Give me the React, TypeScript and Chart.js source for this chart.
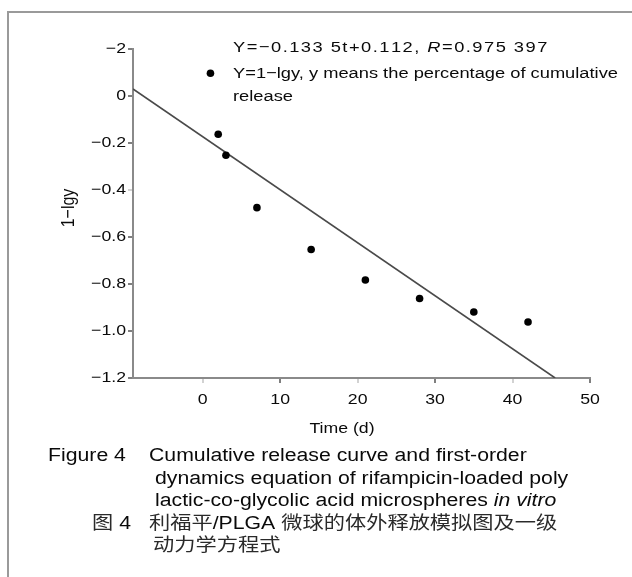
import React, { useEffect, useRef } from "react";
import { Chart, registerables } from "chart.js";

Chart.register(...registerables);

// ---- data ----
const TIME_DAYS = [1, 2, 3, 7, 14, 21, 28, 35, 42];
const VALUES_1_LGY = [0.097, -0.163, -0.252, -0.475, -0.653, -0.783, -0.862, -0.919, -0.962];
const FIT_T = [-9, 45.5];
const FIT_Y = [0.03, -1.2];
const X_TICKS = [0, 10, 20, 30, 40, 50];
const X_TICK_LABELS = ["0", "10", "20", "30", "40", "50"];
const Y_TICKS = [0.2, 0, -0.2, -0.4, -0.6, -0.8, -1.0, -1.2];
const Y_TICK_LABELS = ["−2", "0", "−0.2", "−0.4", "−0.6", "−0.8", "−1.0", "−1.2"];
const X_LIGHT_TICKS = [0, 20, 40];
const Y_LIGHT_TICKS = [-0.4];
const X_TITLE = "Time (d)";
const Y_TITLE = "1−lgy";
const X_MIN = -9;
const X_MAX = 50;
const Y_MIN = -1.2;
const Y_MAX = 0.2;

// ---- text styling ----
const SX = 1.18;
const LATIN = '"Liberation Sans", Arial, sans-serif';
const CJK = '"Noto Sans CJK SC", sans-serif';
const TEXT = "#0a0a0a";

type Seg = { t: string; font: string; color?: string; ls?: number };

function drawSegs(ctx: CanvasRenderingContext2D, segs: Seg[], x: number, y: number, baseline: CanvasTextBaseline = "alphabetic") {
  ctx.save();
  ctx.translate(x, y);
  ctx.scale(SX, 1);
  ctx.textBaseline = baseline;
  ctx.textAlign = "left";
  let cx = 0;
  for (const s of segs) {
    ctx.font = s.font;
    ctx.fillStyle = s.color || TEXT;
    if (s.ls) {
      for (const ch of Array.from(s.t)) {
        ctx.fillText(ch, cx, 0);
        cx += ctx.measureText(ch).width + s.ls;
      }
    } else {
      ctx.fillText(s.t, cx, 0);
      cx += ctx.measureText(s.t).width;
    }
  }
  ctx.restore();
}

function drawAligned(ctx: CanvasRenderingContext2D, text: string, x: number, y: number, align: CanvasTextAlign, font: string) {
  ctx.save();
  ctx.translate(x, y);
  ctx.scale(SX, 1);
  ctx.font = font;
  ctx.fillStyle = TEXT;
  ctx.textAlign = align;
  ctx.textBaseline = "middle";
  ctx.fillText(text, 0, 0);
  ctx.restore();
}

const textPlugin = {
  id: "textPlugin",
  afterDraw(chart: any) {
    const ctx: CanvasRenderingContext2D = chart.ctx;
    const xs = chart.scales.x;
    const ys = chart.scales.y;
    const tickFont = `15px ${LATIN}`;
    ys.ticks.forEach((tk: any) => {
      const idx = Y_TICKS.findIndex((v) => Math.abs(v - tk.value) < 1e-9);
      if (idx < 0) return;
      drawAligned(ctx, Y_TICK_LABELS[idx], ys.left - 2, ys.getPixelForValue(tk.value), "right", tickFont);
    });
    xs.ticks.forEach((tk: any) => {
      const idx = X_TICKS.indexOf(tk.value);
      if (idx < 0) return;
      drawAligned(ctx, X_TICK_LABELS[idx], xs.getPixelForValue(tk.value), xs.bottom + 17, "center", tickFont);
    });
    // axis titles
    drawAligned(ctx, X_TITLE, 342, 429, "center", tickFont);
    ctx.save();
    ctx.translate(69, 208);
    ctx.rotate(-Math.PI / 2);
    ctx.scale(1, SX);
    ctx.font = `16px ${LATIN}`;
    ctx.fillStyle = TEXT;
    ctx.textAlign = "center";
    ctx.textBaseline = "middle";
    ctx.fillText(Y_TITLE, 0, 0);
    ctx.restore();

    // legend text
    const lf = `15.5px ${LATIN}`;
    const lfi = `italic 15.5px ${LATIN}`;
    drawSegs(
      ctx,
      [
        { t: "Y=−0.133 5t+0.112, ", font: lf, ls: 1.25 },
        { t: "R", font: lfi, ls: 1.25 },
        { t: "=0.975 397", font: lf, ls: 1.25 },
      ],
      233,
      48,
      "middle"
    );
    drawSegs(ctx, [{ t: "Y=1−lgy, y means the percentage of cumulative", font: lf }], 233, 74, "middle");
    drawSegs(ctx, [{ t: "release", font: lf }], 233, 97, "middle");

    // caption
    const cf = `18px ${LATIN}`;
    const cfi = `italic 18px ${LATIN}`;
    const cj = `18px ${CJK}`;
    drawSegs(ctx, [{ t: "Figure 4", font: cf }], 48, 461);
    drawSegs(ctx, [{ t: "Cumulative release curve and first-order", font: cf }], 149, 461);
    drawSegs(ctx, [{ t: "dynamics equation of rifampicin-loaded poly", font: cf }], 155, 484);
    drawSegs(ctx, [{ t: "lactic-co-glycolic acid microspheres ", font: cf }, { t: "in vitro", font: cfi }], 155, 506);
    drawSegs(ctx, [{ t: "图", font: cj, color: "#2a2a2a" }, { t: " 4", font: cf }], 92, 529);
    drawSegs(
      ctx,
      [
        { t: "利福平", font: cj, color: "#2a2a2a" },
        { t: "/PLGA ", font: cf },
        { t: "微球的体外释放模拟图及一级", font: cj, color: "#2a2a2a" },
      ],
      149,
      529
    );
    drawSegs(ctx, [{ t: "动力学方程式", font: cj, color: "#2a2a2a" }], 153, 551);
  },
};

export default function App() {
  const ref = useRef<HTMLCanvasElement | null>(null);
  useEffect(() => {
    if (!ref.current) return;
    const chart = new Chart(ref.current, {
      type: "scatter",
      data: {
        datasets: [
          {
            type: "scatter",
            data: TIME_DAYS.map((t, i) => ({ x: t, y: VALUES_1_LGY[i] })),
            backgroundColor: "#000",
            borderColor: "#000",
            pointRadius: 3.8,
            borderWidth: 0,
            order: 0,
          },
          {
            type: "line",
            data: FIT_T.map((t, i) => ({ x: t, y: FIT_Y[i] })),
            borderColor: "#4a4a4a",
            borderWidth: 1.6,
            pointRadius: 0,
            showLine: true,
            fill: false,
            order: 1,
          } as any,
        ],
      },
      options: {
        animation: false,
        responsive: false,
        devicePixelRatio: 1,
        layout: { padding: { left: 128, top: 49, right: 42, bottom: 194 } },
        plugins: { legend: { display: false }, tooltip: { enabled: false } },
        scales: {
          x: {
            type: "linear",
            min: X_MIN,
            max: X_MAX,
            afterBuildTicks: (s: any) => {
              s.ticks = X_TICKS.map((v) => ({ value: v }));
            },
            ticks: { display: false },
            grid: {
              display: true,
              drawOnChartArea: false,
              drawTicks: true,
              tickLength: 5,
              lineWidth: 2,
              color: (c: any) => (c.tick && X_LIGHT_TICKS.includes(c.tick.value) ? "#d2d2d2" : "#7f7f7f"),
            },
            border: { display: true, color: "#8a8a8a", width: 2 },
          },
          y: {
            type: "linear",
            min: Y_MIN,
            max: Y_MAX,
            afterBuildTicks: (s: any) => {
              s.ticks = Y_TICKS.map((v) => ({ value: v }));
            },
            ticks: { display: false },
            grid: {
              display: true,
              drawOnChartArea: false,
              drawTicks: true,
              tickLength: 5,
              lineWidth: 2,
              color: (c: any) =>
                c.tick && Y_LIGHT_TICKS.some((v) => Math.abs(v - c.tick.value) < 1e-9) ? "#d2d2d2" : "#7f7f7f",
            },
            border: { display: true, color: "#8a8a8a", width: 2 },
          },
        },
      },
      plugins: [textPlugin],
    });
    return () => chart.destroy();
  }, []);

  return (
    <div style={{ position: "fixed", left: 0, top: 0, width: 632, height: 577, overflow: "hidden", background: "#fff" }}>
      <div style={{ position: "absolute", left: 7, top: 11, width: 625, height: 2, background: "#9a9a9a" }} />
      <div style={{ position: "absolute", left: 7, top: 11, width: 2, height: 566, background: "#9a9a9a" }} />
      <canvas ref={ref} width={632} height={577} style={{ position: "absolute", left: 0, top: 0, width: 632, height: 577 }} />
    </div>
  );
}
